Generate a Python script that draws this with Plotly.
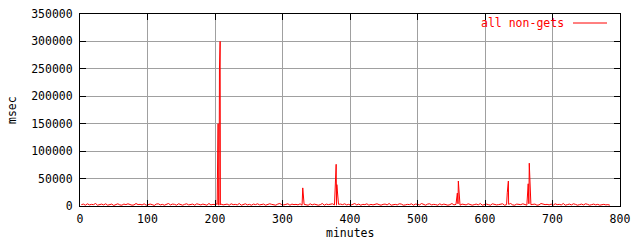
import plotly.graph_objects as go

# baseline noise (msec), one value every 3 minutes starting at minute 2
base_vals = [
    2500, 3500, 1500, 4000, 2000, 3000, 2500, 4500, 1500, 3000,
    3500, 2000, 4000, 1500, 2500, 3500, 1000, 3000, 4000, 2000,
    1500, 3500, 2500, 4000, 3000, 1500, 2000, 4500, 2500, 3000,
    2000, 4000, 1500, 3000, 3500, 2500, 1000, 3500, 4000, 2000,
    3000, 1500, 2500, 4500, 2000, 3500, 3000, 1500, 4000, 2500,
    1500, 3000, 4000, 2000, 2500, 3500, 1500, 4000, 3000, 2000,
    3500, 2500, 1500, 4500, 2000, 3000, 2500, 4000, 1500, 3500,
    2000, 3000, 3500, 1500, 4000, 2500, 3000, 2000, 4500, 1500,
    2500, 4000, 2000, 3000, 1500, 3500, 2500, 4000, 2000, 3000,
    3500, 1500, 2500, 4000, 3000, 2000, 1500, 3500, 4500, 2500,
    2000, 3000, 4000, 1500, 3500, 2500, 3000, 2000, 4000, 1500,
    3000, 2500, 1500, 4000, 2000, 3500, 3000, 1500, 2500, 4500,
    1500, 3500, 2500, 3000, 4000, 2000, 1500, 3000, 3500, 2500,
    4000, 2000, 3000, 1500, 2500, 4500, 2000, 3500, 1500, 3000,
    2500, 4000, 1500, 3000, 2000, 3500, 4000, 2500, 1500, 3000,
    3500, 2000, 4500, 1500, 2500, 3000, 2000, 4000, 3500, 1500,
    2000, 3000, 2500, 4000, 1500, 3500, 3000, 2000, 4500, 2500,
    1500, 3500, 4000, 2000, 3000, 2500, 1500, 4000, 2000, 3500,
    3000, 1500, 2500, 4500, 2000, 3000, 4000, 1500, 3500, 2500,
    2000, 4000, 3000, 1500, 2500, 3500, 2000, 4500, 1500, 3000,
    3500, 2500, 1500, 4000, 3000, 2000, 2500, 3500, 4000, 1500,
    2500, 3000, 4500, 2000, 1500, 3500, 3000, 2500, 4000, 2000,
    1500, 4000, 2500, 3000, 3500, 1500, 2000, 4500, 3000, 2500,
    3000, 2000, 3500, 1500, 4000, 2500, 3000, 2000, 4500, 1500,
    2500, 3500, 2000, 4000, 3000, 1500, 2500, 3500, 2000, 4000,
    3000, 1500, 2500, 3500, 2000, 3000, 1500, 2500, 3000, 2000,
    2500, 1500,
]
base_minutes = [2 + 3 * i for i in range(len(base_vals))]

# spikes (minute, msec)
spike_minutes = [203.2, 203.6, 204.6, 205.0, 205.6, 206.6, 207.6, 208.0,
                 329.0, 330.0, 379.5, 380.5, 559.0, 560.5,
                 633.0, 634.6, 664.0, 665.6]
spike_vals = [3000, 50000, 150000, 2000, 150000, 250000, 300000, 2000,
              17000, 33000, 76000, 39000, 23500, 45500,
              24000, 45500, 40500, 78000]

x_ticks = [0, 100, 200, 300, 400, 500, 600, 700, 800]
y_ticks = [0, 50000, 100000, 150000, 200000, 250000, 300000, 350000]

pts = sorted(zip(base_minutes + spike_minutes, base_vals + spike_vals))
xs = [p[0] for p in pts]
ys = [p[1] for p in pts]

FONT = "DejaVu Sans Mono"
FS = 11.5

fig = go.Figure()
fig.add_trace(go.Scatter(x=xs, y=ys, mode="lines",
                         line=dict(color="#ff0000", width=1),
                         name="all non-gets", showlegend=False))

axis_common = dict(showline=True, linecolor="black", linewidth=1, mirror="ticks",
                   ticks="inside", ticklen=6, tickcolor="black",
                   showgrid=True, gridcolor="#a0a0a0", gridwidth=1,
                   zeroline=False, automargin=False,
                   tickfont=dict(family=FONT, size=FS, color="black"))

fig.update_xaxes(range=[0, 800], tickvals=x_ticks,
                 ticktext=[str(v) for v in x_ticks], ticklabelstandoff=2,
                 **axis_common)
fig.update_yaxes(range=[0, 350000], tickvals=y_ticks,
                 ticktext=[str(v) for v in y_ticks], ticklabelstandoff=4,
                 **axis_common)

fig.update_layout(
    width=640, height=240,
    margin=dict(l=80, r=20, t=14, b=34),
    paper_bgcolor="white", plot_bgcolor="white",
    showlegend=False,
)

pw, ph = 540, 192
def px(xp):
    return (xp - 80) / pw
def py(yp):
    return (206 - yp) / ph

# axis titles
fig.add_annotation(x=px(349.5), y=py(233), xref="paper", yref="paper",
                   xanchor="center", yanchor="middle", text="minutes",
                   showarrow=False, font=dict(family=FONT, size=FS, color="black"))
fig.add_annotation(x=px(12), y=py(110), xref="paper", yref="paper",
                   xanchor="center", yanchor="middle", text="msec", textangle=-90,
                   showarrow=False, font=dict(family=FONT, size=FS, color="black"))

# gnuplot-style key: text then line sample
fig.add_annotation(x=px(566), y=py(23), xref="paper", yref="paper",
                   xanchor="right", yanchor="middle", text="all non-gets",
                   showarrow=False, font=dict(family=FONT, size=FS, color="#ff0000"))
fig.add_shape(type="line", xref="paper", yref="paper",
              x0=px(573), x1=px(607), y0=py(23), y1=py(23),
              line=dict(color="#ff0000", width=1))

fig.write_html("out.html")
